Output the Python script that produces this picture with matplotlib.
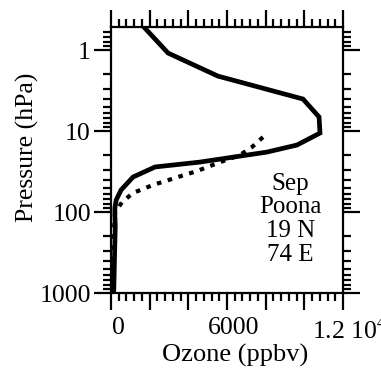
"""
Perfil de ozono — Poona (19 N, 74 E), septiembre
"""

import numpy as np
import matplotlib
matplotlib.use("Agg")
import matplotlib.pyplot as plt
from matplotlib.ticker import FixedLocator, LogLocator, NullFormatter
from matplotlib.transforms import ScaledTranslation

plt.rcParams["font.family"] = ["Liberation Serif", "DejaVu Serif"]
plt.rcParams["mathtext.fontset"] = "stix"

# Perfil sólido (ppbv vs hPa)
solid_ozone = [1700, 2950, 5530, 9930, 10760, 10810, 9620, 8070, 4600,
               2280, 1140, 520, 270, 200, 200, 220, 190, 140]
solid_pres = [0.52, 1.09, 2.1, 4.03, 6.7, 10.6, 14.9, 18.2, 24.2,
              27.8, 37, 53.5, 71, 89, 110, 150, 300, 1000]

# Perfil punteado
dot_ozone = [7860, 7290, 6670, 5530, 4450, 3310, 2170, 1140, 570, 210, 150, 130]
dot_pres = [11.9, 15.8, 19.8, 24.8, 31.2, 38.0, 46.4, 58.2, 75.4, 102, 170, 1000]

xticks_major = [0, 2000, 4000, 6000, 8000, 10000, 12000]
xtick_labels = ["0", "", "", "6000", "", "", "1.2 10$^4$"]
yticks_major = [1, 10, 100, 1000]
ytick_labels = ["1", "10", "100", "1000"]

annotation = "Sep\nPoona\n19 N\n74 E"


def main():
    fig = plt.figure(figsize=(3.81, 3.86), dpi=100)
    ax = fig.add_axes([111 / 381, 93 / 386, 232 / 381, 266 / 386])

    ax.plot(solid_ozone, solid_pres, color="black", linewidth=3.4,
            solid_joinstyle="miter")
    ax.plot(dot_ozone, dot_pres, color="black", linewidth=3.0,
            linestyle=(0, (1.1, 1.6)))

    ax.set_yscale("log")
    ax.set_xlim(0, 12000)
    ax.set_ylim(1000, 0.52)

    # Ejes
    ax.xaxis.set_major_locator(FixedLocator(xticks_major))
    ax.set_xticklabels(xtick_labels)
    ax.xaxis.set_minor_locator(FixedLocator(np.arange(0, 12001, 400)))
    ax.yaxis.set_major_locator(FixedLocator(yticks_major))
    ax.set_yticklabels(ytick_labels)
    ax.yaxis.set_minor_locator(LogLocator(base=10, subs=np.arange(2, 10)))
    ax.yaxis.set_minor_formatter(NullFormatter())

    ax.tick_params(which="both", direction="out", top=True, right=True,
                   width=1.6, labelsize=18.5)
    ax.tick_params(which="major", length=12.5)
    ax.tick_params(which="minor", length=6)
    ax.tick_params(axis="x", pad=5)
    ax.tick_params(axis="y", pad=2)
    for s in ax.spines.values():
        s.set_linewidth(1.6)

    offset = ScaledTranslation(7 / 100, 0, fig.dpi_scale_trans)
    for lbl in ax.get_xticklabels():
        lbl.set_transform(lbl.get_transform() + offset)

    ax.set_xlabel("Ozone (ppbv)", fontsize=19, va="center")
    ax.xaxis.set_label_coords(0.537, -0.236)
    ax.set_ylabel("Pressure (hPa)", fontsize=18.5, va="center")
    ax.yaxis.set_label_coords(-0.362, 0.549)

    ax.text(0.772, 0.278, annotation, transform=ax.transAxes, ha="center",
            va="center", multialignment="center", fontsize=18, linespacing=1.1)

    fig.savefig("out.png", dpi=100)
    plt.close(fig)


if __name__ == "__main__":
    main()
